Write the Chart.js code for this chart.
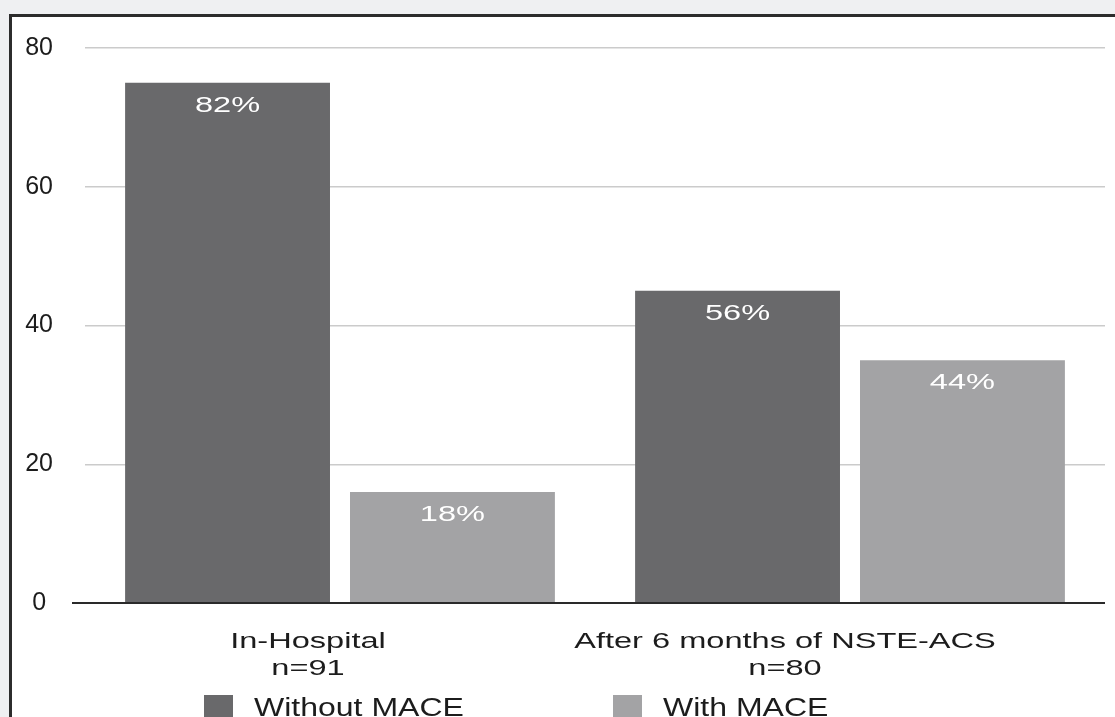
<!DOCTYPE html>
<html>
<head>
<meta charset="utf-8">
<script src="https://cdn.jsdelivr.net/npm/chart.js@4.4.1/dist/chart.umd.min.js"></script>
<style>
  html, body { margin:0; padding:0; width:1115px; height:717px; overflow:hidden; background:#eff0f2; }
  #frame { position:absolute; left:9px; top:14px; width:1200px; height:800px; background:#fff;
           border-top:3px solid #2c2c2c; border-left:3px solid #2c2c2c; }
  #chart { position:absolute; left:0; top:0; }
  #legend { position:absolute; left:204px; top:695px; display:flex; gap:195px; }
  .item { display:flex; align-items:flex-start; font-family:"Liberation Sans", Arial, sans-serif; font-size:25px; line-height:25px; color:#1c1c1c; }
  .box { width:29px; height:29px; margin-right:21px; }
  .txt { display:inline-block; transform:scaleX(1.28); transform-origin:left top; white-space:nowrap; }
</style>
</head>
<body>
<div id="frame"></div>
<canvas id="chart" width="1115" height="717"></canvas>
<div id="legend"></div>
<script>
// data
const categories = [['In-Hospital', 'n=91'], ['After 6 months of NSTE-ACS', 'n=80']];
const seriesNames = ['Without MACE', 'With MACE'];
const withoutMace = [75, 45];
const withMace = [16, 35];
const withoutMacePct = ['82%', '56%'];
const withMacePct = ['18%', '44%'];
const yMin = 0, yMax = 80, yStep = 20;

const colors = ['#69696b', '#a3a3a5'];
const pctLabels = [withoutMacePct, withMacePct];
const catShift = [-32, -65]; // category text sits left of its bar pair in the original
const STRETCH = 1.48;        // source text is drawn wide

const FONT = '"Liberation Sans", Arial, sans-serif';

function wideText(ctx, txt, x, y){
  ctx.save();
  ctx.translate(x, y);
  ctx.scale(STRETCH, 1);
  ctx.fillText(txt, 0, 0);
  ctx.restore();
}

/* white % labels inside bars */
const barLabels = {
  id: 'barLabels',
  afterDatasetsDraw(chart){
    const ctx = chart.ctx;
    ctx.save();
    ctx.font = '22px ' + FONT;
    ctx.fillStyle = '#ffffff';
    ctx.textAlign = 'center';
    ctx.textBaseline = 'alphabetic';
    chart.data.datasets.forEach((ds, di) => {
      chart.getDatasetMeta(di).data.forEach((bar, i) => {
        wideText(ctx, pctLabels[di][i], bar.x, bar.y + 29);
      });
    });
    ctx.restore();
  }
};

/* category labels under the axis, placed from the x scale */
const catLabels = {
  id: 'catLabels',
  afterDraw(chart){
    const ctx = chart.ctx;
    const xs = chart.scales.x;
    const base = chart.chartArea.bottom;
    ctx.save();
    ctx.font = '22px ' + FONT;
    ctx.fillStyle = '#1c1c1c';
    ctx.textAlign = 'center';
    ctx.textBaseline = 'alphabetic';
    categories.forEach((lines, i) => {
      const x = xs.getPixelForValue(i) + catShift[i];
      lines.forEach((line, k) => wideText(ctx, line, x, base + 45 + k * 27.4));
    });
    ctx.restore();
  }
};

const chart = new Chart(document.getElementById('chart'), {
  type: 'bar',
  data: {
    labels: categories,
    datasets: [
      { label: seriesNames[0], data: withoutMace, backgroundColor: colors[0] },
      { label: seriesNames[1], data: withMace, backgroundColor: colors[1] }
    ]
  },
  options: {
    responsive: false,
    animation: false,
    devicePixelRatio: 1,
    categoryPercentage: 0.882,
    barPercentage: 0.911,
    layout: { padding: { top: 48, right: 10, left: 0, bottom: 0 } },
    plugins: { legend: { display: false }, tooltip: { enabled: false } },
    scales: {
      x: {
        grid: { display: false, drawTicks: false },
        border: { display: false },
        afterFit: axis => { axis.height = 114; },
        ticks: { display: false }
      },
      y: {
        min: yMin,
        max: yMax,
        border: { display: false },
        afterFit: axis => { axis.width = 85; },
        grid: {
          color: c => c.tick.value === 0 ? '#2a2a2a' : '#cbcbcb',
          lineWidth: c => c.tick.value === 0 ? 2 : 1.5,
          drawTicks: true,
          tickLength: 13,
          tickColor: c => c.tick.value === 0 ? '#2a2a2a' : 'rgba(0,0,0,0)',
          tickWidth: 2
        },
        ticks: {
          stepSize: yStep,
          padding: 19,
          crossAlign: 'center',
          color: '#1c1c1c',
          font: { family: FONT, size: 25 }
        }
      }
    }
  },
  plugins: [barLabels, catLabels]
});

/* legend built from the datasets */
const legendEl = document.getElementById('legend');
chart.data.datasets.forEach(ds => {
  const item = document.createElement('div');
  item.className = 'item';
  item.innerHTML = `<span class="box" style="background:${ds.backgroundColor}"></span><span class="txt">${ds.label}</span>`;
  legendEl.appendChild(item);
});
</script>
</body>
</html>
